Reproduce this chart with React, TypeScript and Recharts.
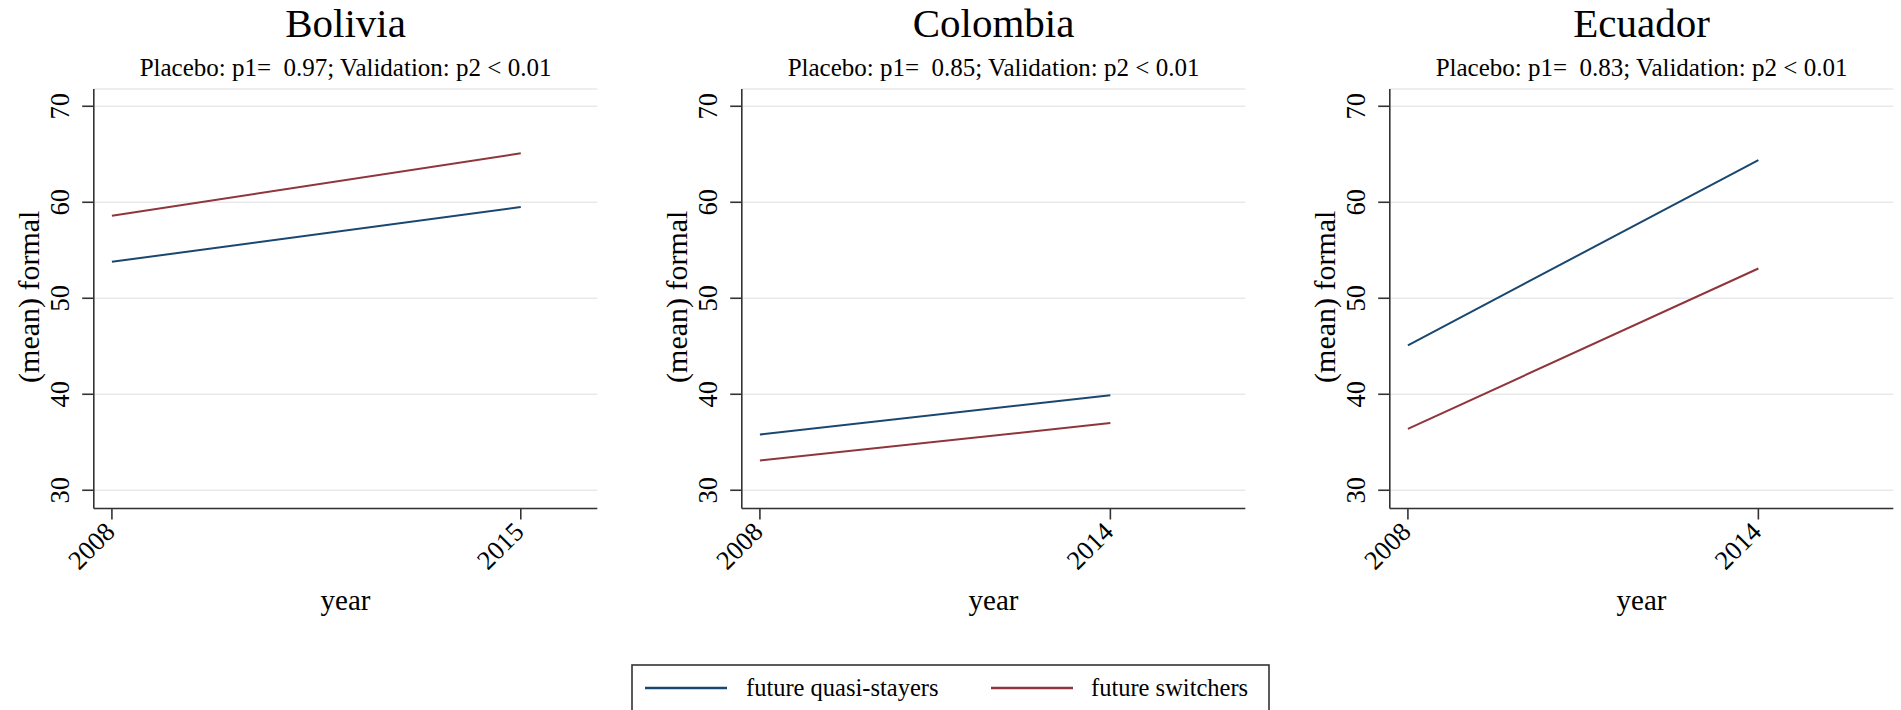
import React from "react";
import { LineChart, Line, XAxis, YAxis, CartesianGrid, Label } from "recharts";

// values
const countries = ["Bolivia", "Colombia", "Ecuador"];
const placeboP = ["0.97", "0.85", "0.83"];
const validationP = ["< 0.01", "< 0.01", "< 0.01"];

const boliviaYears = [2008, 2015];
const colombiaYears = [2008, 2014];
const ecuadorYears = [2008, 2014];

const boliviaStayers = [53.8, 59.5];
const boliviaSwitchers = [58.6, 65.1];
const colombiaStayers = [35.8, 39.9];
const colombiaSwitchers = [33.1, 37.0];
const ecuadorStayers = [45.1, 64.4];
const ecuadorSwitchers = [36.4, 53.1];

const yTicks = [30, 40, 50, 60, 70];
const seriesNames = ["future quasi-stayers", "future switchers"];

const BLUE = "#1a476f";
const RED = "#90353b";
const AXIS = "#333333";
const GRID = "#e9e9e9";
const FONT = "'Liberation Serif', 'Times New Roman', serif";

const PANEL_W = 647.8;
const PLOT_LEFT = 93.8;
const PLOT_W = 503.5;
const PLOT_TOP = 89;
const PLOT_BOTTOM = 508.5;
const CHART_H = 640;

const makeRows = (years: number[], stayers: number[], switchers: number[]) =>
  years.map((year, i) => ({ year, stayers: stayers[i], switchers: switchers[i] }));

const panels = [
  { years: boliviaYears, rows: makeRows(boliviaYears, boliviaStayers, boliviaSwitchers) },
  { years: colombiaYears, rows: makeRows(colombiaYears, colombiaStayers, colombiaSwitchers) },
  { years: ecuadorYears, rows: makeRows(ecuadorYears, ecuadorStayers, ecuadorSwitchers) },
];

const YTick = (props: any) => {
  const { x, y, payload } = props;
  return (
    <text x={x} y={y} transform={`rotate(-90, ${x}, ${y})`} textAnchor="middle"
      fontFamily={FONT} fontSize={26.5} fill="#000">
      {payload.value}
    </text>
  );
};

const XTick = (props: any) => {
  const { x, y, payload } = props;
  const ax = x + 4.5;
  return (
    <text x={ax} y={y} transform={`rotate(-45, ${ax}, ${y})`} textAnchor="end"
      fontFamily={FONT} fontSize={26.5} fill="#000">
      {payload.value}
    </text>
  );
};

const Panel = ({ index }: { index: number }) => {
  const p = panels[index];
  const left = index * PANEL_W;
  const centerX = PLOT_LEFT + PLOT_W / 2;
  return (
    <div style={{ position: "absolute", left, top: 0, width: PANEL_W, height: CHART_H }}>
      <svg style={{ position: "absolute", left: 0, top: 0 }} width={PANEL_W} height={90}>
        <text x={centerX} y={36.5} textAnchor="middle" fontFamily={FONT} fontSize={41} fill="#000">
          {countries[index]}
        </text>
        <text x={centerX} y={76} textAnchor="middle" fontFamily={FONT} fontSize={25} fill="#000"
          style={{ whiteSpace: "pre" }}>
          {`Placebo: p1=  ${placeboP[index]}; Validation: p2 ${validationP[index]}`}
        </text>
      </svg>
      <div style={{ position: "absolute", left: 0, top: 0 }}>
        <LineChart width={PANEL_W} height={CHART_H} data={p.rows}
          margin={{ top: PLOT_TOP, right: PANEL_W - PLOT_LEFT - PLOT_W, bottom: 0, left: 0 }}>
          <CartesianGrid vertical={false} stroke={GRID} strokeWidth={1.5} />
          <XAxis dataKey="year" type="number" domain={[2007.69, 2016.31]} ticks={p.years}
            interval={0} height={CHART_H - PLOT_BOTTOM} tickSize={11} tickMargin={14}
            tick={<XTick />} stroke={AXIS} strokeWidth={1.6}>
            <Label content={(lp: any) => (
              <text x={lp.viewBox.x + lp.viewBox.width / 2} y={610} textAnchor="middle"
                fontFamily={FONT} fontSize={29} fill="#000">year</text>
            )} />
          </XAxis>
          <YAxis type="number" domain={[28.1, 71.8]} ticks={yTicks} interval={0}
            width={PLOT_LEFT} tickSize={11.6} tickMargin={13.4} tick={<YTick />}
            stroke={AXIS} strokeWidth={1.6}>
            <Label content={(lp: any) => {
              const cy = lp.viewBox.y + lp.viewBox.height / 2 - 2;
              return (
                <text x={39} y={cy} transform={`rotate(-90, 39, ${cy})`} textAnchor="middle"
                  fontFamily={FONT} fontSize={30} fill="#000">(mean) formal</text>
              );
            }} />
          </YAxis>
          <Line type="linear" dataKey="stayers" name={seriesNames[0]} stroke={BLUE}
            strokeWidth={2} dot={false} isAnimationActive={false} />
          <Line type="linear" dataKey="switchers" name={seriesNames[1]} stroke={RED}
            strokeWidth={2} dot={false} isAnimationActive={false} />
        </LineChart>
      </div>
    </div>
  );
};

const Legend = () => (
  <svg style={{ position: "absolute", left: 631, top: 664 }} width={640} height={50}>
    <rect x={1} y={1} width={637} height={60} fill="#fff" stroke={AXIS} strokeWidth={1.6} />
    <line x1={14} x2={96} y1={24} y2={24} stroke={BLUE} strokeWidth={2.5} />
    <text x={115} y={32} fontFamily={FONT} fontSize={24.5} fill="#000">{seriesNames[0]}</text>
    <line x1={360} x2={442} y1={24} y2={24} stroke={RED} strokeWidth={2.5} />
    <text x={460} y={32} fontFamily={FONT} fontSize={24.5} fill="#000">{seriesNames[1]}</text>
  </svg>
);

export default function App() {
  return (
    <div style={{ position: "absolute", left: 0, top: 0, width: 1901, height: 710, background: "#fff", overflow: "hidden" }}>
      {countries.map((_, i) => <Panel key={i} index={i} />)}
      <Legend />
    </div>
  );
}
